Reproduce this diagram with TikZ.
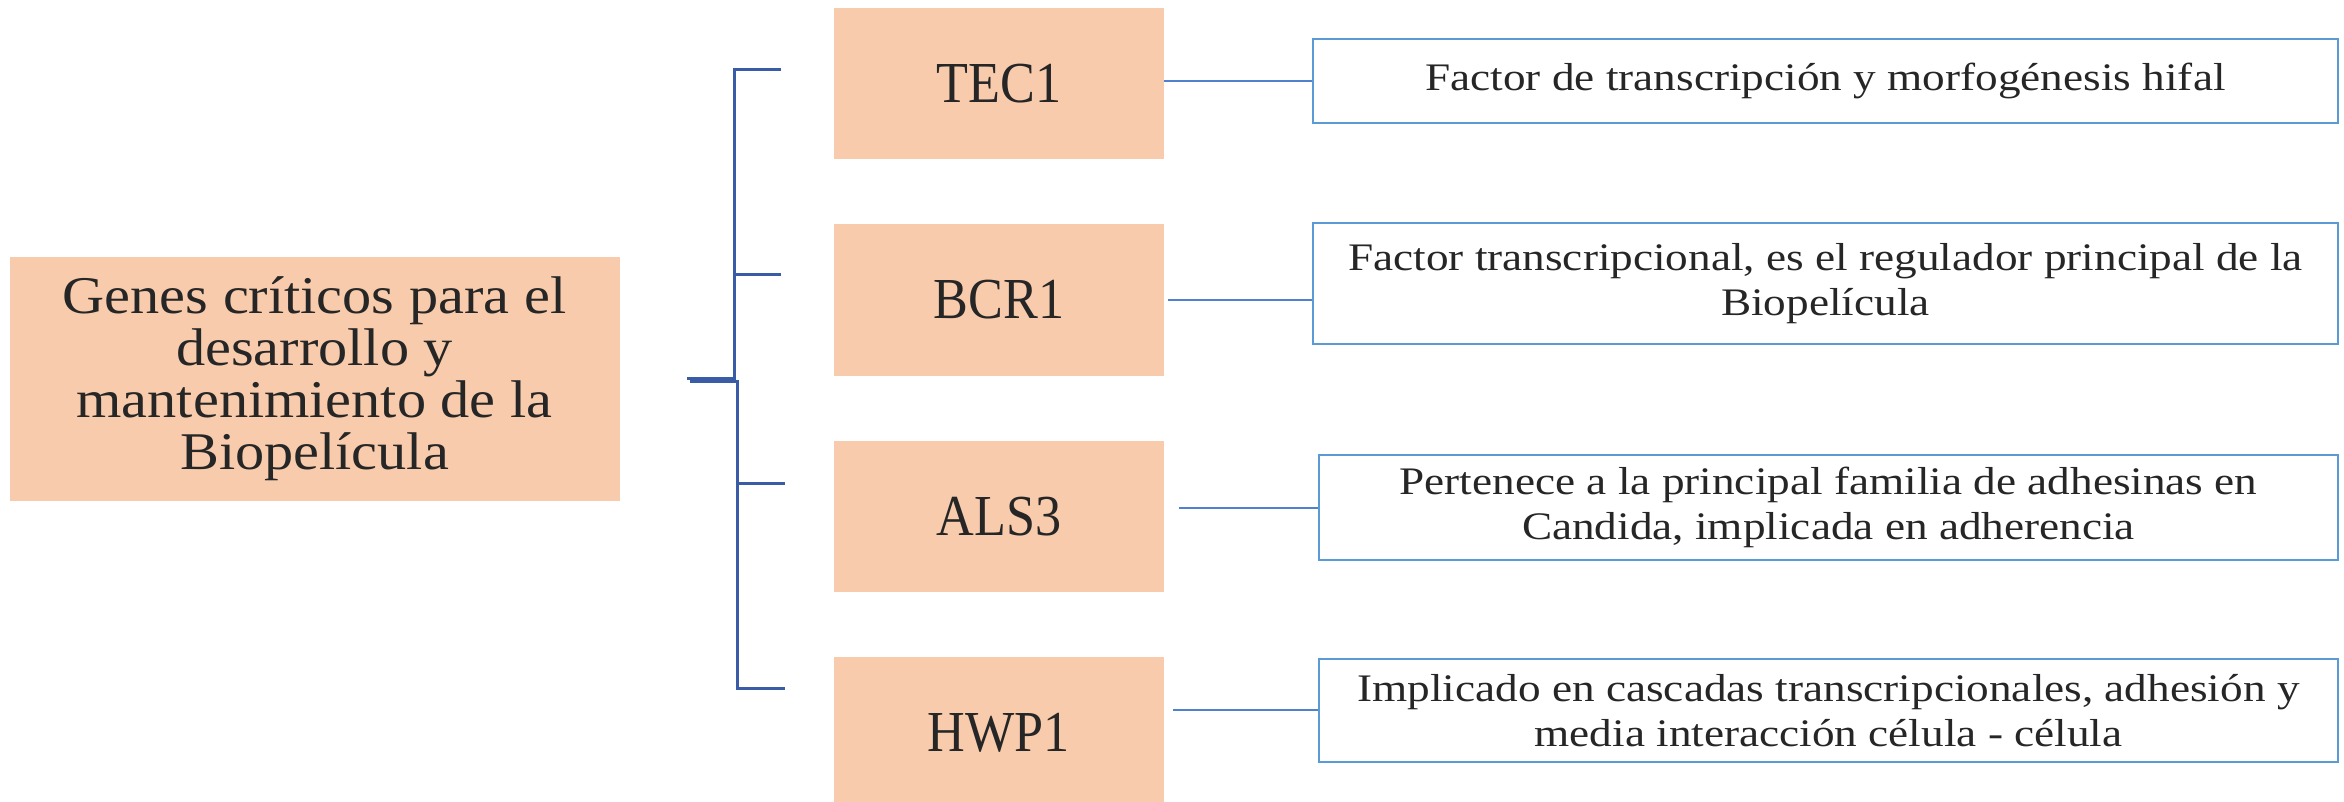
\documentclass[tikz,border=0pt]{standalone}
\usepackage{fontspec}
\setmainfont{Liberation Serif}
\newfontfamily\mainfnt[FakeStretch=1.1]{Liberation Serif}
\newfontfamily\genefnt[FakeStretch=0.9]{Liberation Serif}
\newfontfamily\descfnt[FakeStretch=1.16]{Liberation Serif}
\definecolor{peach}{HTML}{F7CBAC}
\definecolor{txt}{HTML}{262626}
\definecolor{brk}{HTML}{3A5BA5}
\definecolor{dborder}{HTML}{5B9BD5}
\definecolor{conn}{HTML}{4F81CC}
\begin{document}
\begin{tikzpicture}[x=1pt,y=-1pt,
  mainbox/.style={fill=peach,draw=none,inner sep=0pt,text=txt,align=center,
    font=\mainfnt\fontsize{53}{52}\selectfont},
  genebox/.style={fill=peach,draw=none,inner sep=0pt,text=txt,align=center,
    minimum width=330pt,minimum height=151pt,font=\genefnt\fontsize{58}{60}\selectfont},
  descbox/.style={draw=dborder,line width=2.5pt,fill=white,inner sep=0pt,text=txt,align=center,
    font=\descfnt\fontsize{39}{45}\selectfont},
  brkline/.style={draw=brk,line width=3pt},
  connline/.style={draw=conn,line width=1.6pt}]
\useasboundingbox (0,0) rectangle (2344,802);
\fill[white] (0,0) rectangle (2344,802);

% main box
\node[mainbox,minimum width=610pt,minimum height=244pt] (main) at (314.5,379)
  {Genes críticos para el\\desarrollo y\\mantenimiento de la\\Biopelícula};

% gene boxes
\node[genebox] (tec) at (999,83.5) {TEC1};
\node[genebox] (bcr) at (999,300) {BCR1};
\node[genebox] (als) at (999,516.5) {ALS3};
\node[genebox] (hwp) at (999,732.5) {HWP1};

% description boxes
\node[descbox,minimum width=1025pt,minimum height=84pt] (d1) at (1825.5,81)
  {Factor de transcripción y morfogénesis hifal};
\node[descbox,minimum width=1025pt,minimum height=121pt] (d2) at (1825.5,283.5)
  {Factor transcripcional, es el regulador principal de la\\Biopelícula};
\node[descbox,minimum width=1019pt,minimum height=105pt] (d3) at (1828.5,507.5)
  {Pertenece a la principal familia de adhesinas en\\Candida, implicada en adherencia};
\node[descbox,minimum width=1019pt,minimum height=103pt] (d4) at (1828.5,710.5)
  {Implicado en cascadas transcripcionales, adhesión y\\media interacción célula - célula};

% connectors gene -> description
\coordinate (c1) at (1164,81);
\coordinate (c2) at (1168,300);
\coordinate (c3) at (1179,508);
\coordinate (c4) at (1173,710);
\draw[connline] (c1) -- (c1 -| d1.west);
\draw[connline] (c2) -- (c2 -| d2.west);
\draw[connline] (c3) -- (c3 -| d3.west);
\draw[connline] (c4) -- (c4 -| d4.west);

% bracket
\coordinate (ta) at (781,70);
\coordinate (tb) at (781,275);
\coordinate (ja) at (687,378);
\coordinate (ka) at (734,70);
\coordinate (kb) at (734,275);
\coordinate (kc) at (734,378);
\coordinate (jb) at (690,381);
\coordinate (la) at (737,381);
\coordinate (lb) at (737,483);
\coordinate (lc) at (737,688);
\coordinate (tc) at (785,483);
\coordinate (td) at (785,688);
\draw[brkline] (ta) -- (ka) -- (kc) -- (ja);
\draw[brkline] (tb) -- (kb);
\draw[brkline] (jb) -- (la) -- (lc) -- (td);
\draw[brkline] (tc) -- (lb);
\end{tikzpicture}
\end{document}
